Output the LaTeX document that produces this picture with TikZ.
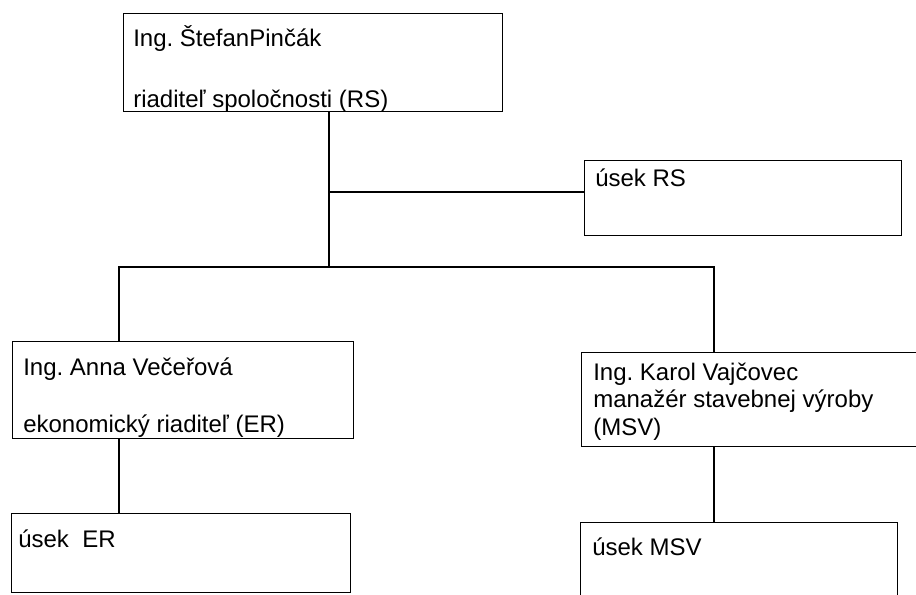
\documentclass[tikz,border=0pt]{standalone}
\usepackage{fontspec}
\setmainfont{Liberation Sans}
\usepackage{tikz}
\usetikzlibrary{positioning}
\frenchspacing

\tikzset{
  orgbox/.style={draw, line width=0.9pt, rectangle, anchor=north west, inner sep=0pt},
  conn/.style={line width=0.8pt},
  lbl/.style={anchor=base west, inner sep=0pt, font=\fontsize{18}{20}\selectfont},
}

\begin{document}
\begin{tikzpicture}[x=0.75pt,y=0.75pt,yscale=-1,xscale=1]
%set diagram left start at 0, and has height of 594
\useasboundingbox (0,0) rectangle (916,594);
\clip (0,0) rectangle (916,594);

%Shape: Rectangle [id:rs]
\node[orgbox, minimum width=284.25pt, minimum height=73.5pt] (rs) at (123,13) {};
%Shape: Rectangle [id:usekRS]
\node[orgbox, minimum width=237.75pt, minimum height=56.25pt] (usekRS) at (584,160) {};
%Shape: Rectangle [id:er]
\node[orgbox, minimum width=255.75pt, minimum height=72.75pt] (er) at (12,341) {};
%Shape: Rectangle [id:usekER]
\node[orgbox, minimum width=254.25pt, minimum height=59.25pt] (usekER) at (11,513) {};
%Shape: Rectangle [id:msv]
\node[orgbox, minimum width=284.25pt, minimum height=70.5pt] (msv) at (581,352) {};
%Shape: Rectangle [id:usekMSV]
\node[orgbox, minimum width=237.75pt, minimum height=88.5pt] (usekMSV) at (580,522) {};

%Junctions
\coordinate (jRS) at (329,192);
\coordinate (jTop) at (329,267);
\coordinate (jER) at (119,267);
\coordinate (jMSV) at (714,267);

%Straight Lines
\draw[conn] (jTop |- rs.south) -- (jTop);
%Straight Lines
\draw[conn] (jRS) -- (jRS -| usekRS.west);
%Straight Lines
\draw[conn] (jER |- er.north) -- (jER) -- (jMSV) -- (jMSV |- msv.north);
%Straight Lines
\draw[conn] (jER |- er.south) -- (jER |- usekER.north);
%Straight Lines
\draw[conn] (jMSV |- msv.south) -- (jMSV |- usekMSV.north);

% Text Node
\node[lbl] (rsName) at (133,46) {Ing. ŠtefanPinčák};
% Text Node
\node[lbl] (rsRole) at (133,107) {riaditeľ spoločnosti (RS)};
% Text Node
\node[lbl] (usekRSlbl) at (595,186) {úsek RS};
% Text Node
\node[lbl] (erName) at (23,375) {Ing. Anna Večeřová};
% Text Node
\node[lbl] (erRole) at (23,432) {ekonomický riaditeľ (ER)};
% Text Node
\node[lbl] (usekERlbl) at (18,547) {úsek\ \ ER};
% Text Node
\node[lbl] (msvName) at (593,380) {Ing. Karol Vajčovec};
% Text Node
\node[lbl] (msvRole) at (593,407) {manažér stavebnej výroby};
% Text Node
\node[lbl] (msvAbbr) at (593,435) {(MSV)};
% Text Node
\node[lbl] (usekMSVlbl) at (592,555) {úsek MSV};

\end{tikzpicture}
\end{document}
